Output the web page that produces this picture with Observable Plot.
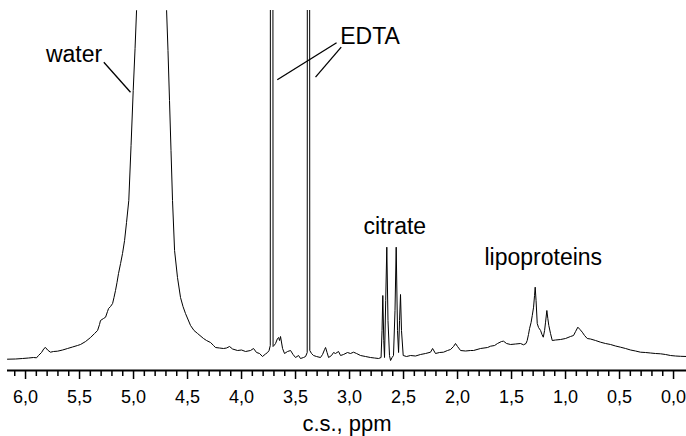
<!DOCTYPE html>
<html>
<head>
<meta charset="utf-8">
<script src="https://cdn.jsdelivr.net/npm/d3@7"></script>
<script src="https://cdn.jsdelivr.net/npm/@observablehq/plot@0.6"></script>
<style>
  html, body { margin: 0; padding: 0; background: #fff; }
  #chart { width: 686px; height: 436px; }
</style>
</head>
<body>
<div id="chart"></div>
<script>
// Chemical shift (ppm) and signal intensity (arbitrary units)
const ppm = [
  6.167, 6.093, 6.028, 5.972, 5.926, 5.898, 5.880, 5.852, 5.829, 5.815,
  5.796, 5.769, 5.741, 5.704, 5.657, 5.611, 5.565, 5.519, 5.491, 5.444,
  5.398, 5.361, 5.333, 5.315, 5.306, 5.278, 5.259, 5.241, 5.231, 5.213,
  5.194, 5.181, 5.167, 5.153, 5.139, 5.120, 5.102, 5.083, 5.065, 5.044,
  5.023, 5.003, 4.986, 4.972, 4.963, 4.935, 4.889, 4.833, 4.778, 4.722,
  4.704, 4.694, 4.681, 4.667, 4.653, 4.639, 4.620, 4.593, 4.565, 4.542,
  4.519, 4.472, 4.440, 4.407, 4.352, 4.324, 4.287, 4.259, 4.241, 4.204,
  4.167, 4.139, 4.111, 4.083, 4.037, 4.000, 3.963, 3.917, 3.889, 3.861,
  3.833, 3.806, 3.778, 3.759, 3.745, 3.734, 3.727, 3.718, 3.708, 3.699,
  3.685, 3.667, 3.657, 3.648, 3.639, 3.620, 3.602, 3.574, 3.546, 3.523,
  3.500, 3.472, 3.454, 3.426, 3.407, 3.392, 3.385, 3.377, 3.368, 3.352,
  3.333, 3.306, 3.269, 3.250, 3.231, 3.222, 3.208, 3.194, 3.167, 3.148,
  3.130, 3.102, 3.083, 3.056, 3.019, 2.991, 2.963, 2.935, 2.898, 2.852,
  2.806, 2.769, 2.731, 2.708, 2.699, 2.692, 2.683, 2.676, 2.665, 2.655,
  2.644, 2.630, 2.620, 2.606, 2.593, 2.579, 2.568, 2.556, 2.546, 2.537,
  2.528, 2.519, 2.503, 2.472, 2.435, 2.389, 2.343, 2.296, 2.250, 2.231,
  2.204, 2.167, 2.130, 2.093, 2.065, 2.037, 2.019, 2.000, 1.972, 1.926,
  1.880, 1.852, 1.787, 1.722, 1.694, 1.657, 1.630, 1.593, 1.574, 1.546,
  1.509, 1.463, 1.417, 1.389, 1.366, 1.355, 1.343, 1.333, 1.319, 1.308,
  1.296, 1.287, 1.281, 1.273, 1.262, 1.250, 1.231, 1.218, 1.206, 1.194,
  1.185, 1.173, 1.164, 1.155, 1.139, 1.123, 1.093, 1.046, 1.000, 0.954,
  0.926, 0.907, 0.886, 0.866, 0.845, 0.824, 0.799, 0.769, 0.722, 0.676,
  0.630, 0.583, 0.537, 0.491, 0.444, 0.398, 0.352, 0.306, 0.259, 0.213,
  0.167, 0.120, 0.074, 0.028, -0.019, -0.065, -0.120
];
const intensity = [
  11.3, 11.5, 12, 12.5, 13, 12.7, 15, 18, 22, 23,
  20.5, 18.3, 19, 19.3, 20.5, 22, 23.5, 25, 26, 29,
  33, 37, 40, 46, 50, 52, 53.3, 59, 62, 64,
  67, 73, 80, 88, 97, 107, 117, 130, 148, 170,
  225, 280, 322, 360, 390, 600, 1500, 3000, 1500, 600,
  400, 360, 320, 270, 220, 170, 120, 93, 73, 64,
  57, 45, 40, 37, 32, 30, 28, 25, 23, 22.5,
  22, 22.5, 24, 21.5, 20, 20.5, 19, 20, 22, 18,
  17, 14, 16.5, 18, 20, 25, 2500, 2500, 24, 25,
  27, 32, 33, 30, 34, 22, 17, 19, 20, 16,
  13, 15, 12, 13, 14, 18, 2500, 2500, 20, 17,
  15, 14, 13, 16, 21, 23, 18, 13, 15, 18,
  17, 19, 15, 16, 18, 17, 18.3, 17, 15, 14,
  13, 12.5, 12, 13, 40, 75, 30, 13, 70, 123.3,
  50, 15, 10, 13, 15, 60, 123.3, 40, 18, 50,
  76, 40, 15, 14, 15, 14.5, 16, 17, 18.3, 22,
  17, 18, 18.3, 20, 21, 24, 27, 24, 20, 19.5,
  20, 20, 22, 23, 24.3, 25, 27, 29, 29.3, 27,
  26, 26.5, 27, 25.7, 27, 30, 36, 42, 48, 55,
  63.3, 75, 83.3, 70, 47, 43, 40, 36, 33.3, 40,
  48.3, 60, 52, 45, 37, 30, 30.5, 31, 32, 34,
  35, 39, 43.3, 41, 38.3, 35, 32, 31.5, 30, 28.3,
  27, 26, 24.5, 23.3, 22, 20.5, 19.5, 18.3, 18, 17.5,
  17, 16.7, 16, 15, 14.5, 14.2, 14
];

// Axis ticks
const majorTicks = [6.0, 5.5, 5.0, 4.5, 4.0, 3.5, 3.0, 2.5, 2.0, 1.5, 1.0, 0.5, 0.0];
const minorTicks = [6.1, 5.9, 5.8, 5.7, 5.6, 5.4, 5.3, 5.2, 5.1, 4.9, 4.8, 4.7, 4.6,
  4.4, 4.3, 4.2, 4.1, 3.9, 3.8, 3.7, 3.6, 3.4, 3.3, 3.2, 3.1, 2.9, 2.8, 2.7, 2.6,
  2.4, 2.3, 2.2, 2.1, 1.9, 1.8, 1.7, 1.6, 1.4, 1.3, 1.2, 1.1, 0.9, 0.8, 0.7, 0.6,
  0.4, 0.3, 0.2, 0.1];
const xLabel = "c.s., ppm";

// Peak annotations
const labelText = ["water", "EDTA", "citrate", "lipoproteins"];
const labelPpm = [5.551, 2.810, 2.581, 1.206];
const labelI = [308.5, 326.7, 136.7, 106];

// Leader lines (start near label, end at peak)
const leaderPpm1 = [5.275, 3.120, 3.077];
const leaderI1 = [308.3, 327.7, 323.3];
const leaderPpm2 = [5.028, 3.669, 3.315];
const leaderI2 = [278.3, 290.7, 293.3];

const spectrum = ppm.map((p, i) => ({ppm: p, I: intensity[i]}));
const labels = labelText.map((t, i) => ({t, x: labelPpm[i], y: labelI[i]}));
const leaders = leaderPpm1.map((p, i) => ({x1: p, y1: leaderI1[i], x2: leaderPpm2[i], y2: leaderI2[i]}));

const font = "'Liberation Sans', Arial, Helvetica, sans-serif";

const chart = Plot.plot({
  width: 686,
  height: 436,
  marginLeft: 7,
  marginRight: 0,
  marginTop: 10,
  marginBottom: 66,
  style: {fontFamily: font, background: "#fff", color: "#000"},
  x: {domain: [6.167, -0.12]},
  y: {domain: [0, 360], axis: null},
  marks: [
    Plot.line(spectrum, {x: "ppm", y: "I", stroke: "#000", strokeWidth: 1, clip: true}),
    Plot.ruleY([0], {stroke: "#000", strokeWidth: 2}),
    Plot.axisX({ticks: minorTicks, tickSize: 6, tickFormat: () => "", strokeWidth: 1.5}),
    Plot.axisX({
      ticks: majorTicks, tickSize: 9, tickPadding: 11, strokeWidth: 1.5,
      tickFormat: d => d.toFixed(1).replace(".", ","),
      fontSize: 18, label: null
    }),
    Plot.text([xLabel], {frameAnchor: "bottom", dy: 60, lineAnchor: "bottom", fontSize: 22, fill: "#000"}),
    Plot.link(leaders, {x1: "x1", y1: "y1", x2: "x2", y2: "y2", stroke: "#000", strokeWidth: 1.3}),
    Plot.text(labels, {x: "x", y: "y", text: "t", lineAnchor: "bottom", textAnchor: "middle", fontSize: 23, fill: "#000"})
  ]
});
document.getElementById("chart").appendChild(chart);
</script>
</body>
</html>
